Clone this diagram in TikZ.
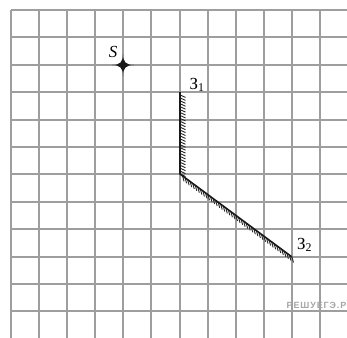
\documentclass[tikz,border=0pt]{standalone}
\usepackage{fontspec}
\setmainfont{Liberation Serif}
\newfontfamily\wmfont[LetterSpace=10]{Liberation Sans}
\usetikzlibrary{calc}
\begin{document}
\begin{tikzpicture}[x=1bp,y=-1bp,
  gridline/.style={draw=black!38, line width=1.6bp},
  mirror/.style={draw=black!90, line width=1.6bp, line join=miter},
  hatchtick/.style={draw=black!85, line width=0.9bp},
  lbl/.style={font=\fontsize{17}{20}\selectfont, inner sep=0pt}]
\useasboundingbox (0,0) rectangle (347,338);
\fill[white] (0,0) rectangle (347,338);
\begin{scope}
\clip (0,0) rectangle (347,338);
\foreach \x in {11,39,67,95,123,151,180,208,236,264,292,320} \draw[gridline] (\x,10) -- (\x,339);
\foreach \y in {10,37,65,92,120,147,174,202,229,257,284,311} \draw[gridline] (11,\y) -- (348,\y);
\end{scope}
\node[anchor=base east, inner sep=0pt, text=black!35, font=\wmfont\bfseries\fontsize{9}{10}\selectfont] (wm) at (346.5,308.5) {РЕШУЕГЭ.Р};
% points
\coordinate (S) at (123,65);
\coordinate (Z1) at (180,92);
\coordinate (C) at (180,174);
\coordinate (Z2) at (292,257);
% star
\fill[black!90] ($(S)+(11,0)$) .. controls ($(S)+(3,0)$) and ($(S)+(0,-3)$) .. ($(S)+(0,-11)$)
  .. controls ($(S)+(0,-3)$) and ($(S)+(-3,0)$) .. ($(S)+(-11,0)$)
  .. controls ($(S)+(-3,0)$) and ($(S)+(0,3)$) .. ($(S)+(0,11)$)
  .. controls ($(S)+(0,3)$) and ($(S)+(3,0)$) .. ($(S)+(11,0)$) -- cycle;
% hatching
\foreach \t in {1,...,28} \draw[hatchtick] ($(Z1)!{\t/28}!(C)$) -- ++(5.5,2.5);
\foreach \t in {1,...,44} \draw[hatchtick] ($(C)!{\t/44}!(Z2)$) -- ++(1.5,5.5);
\draw[mirror] (Z1) -- (C) -- (Z2);
% labels
\node[lbl, font=\fontsize{17}{20}\selectfont\itshape] (Slbl) at (113,52) {S};
\node[lbl, anchor=base west] (L1) at (189.5,89) {З\textsubscript{1}};
\node[lbl, anchor=base west] (L2) at (297,249) {З\textsubscript{2}};
\end{tikzpicture}
\end{document}
